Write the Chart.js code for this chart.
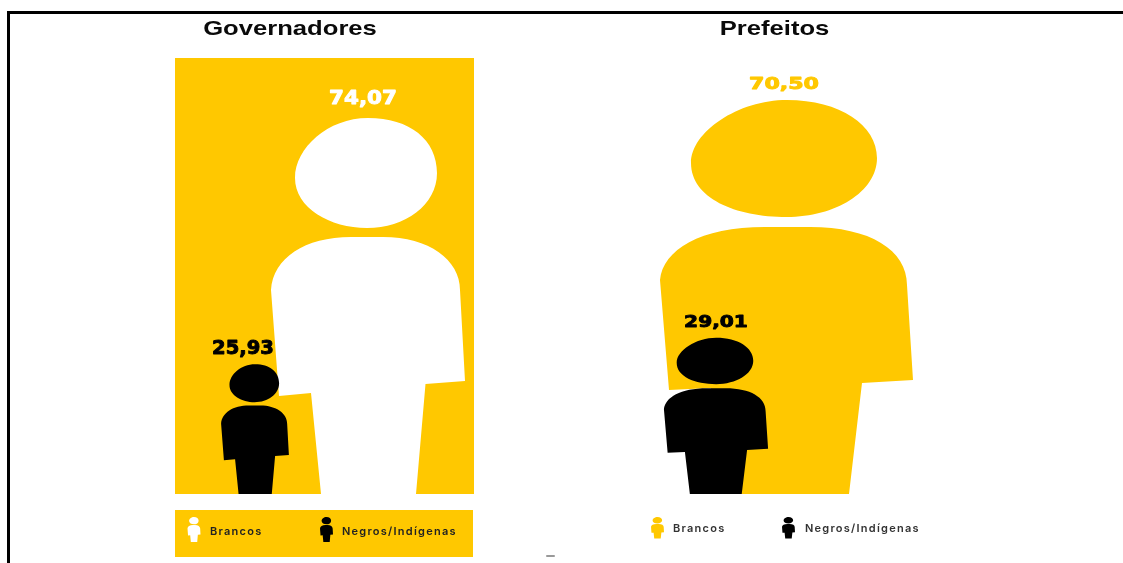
<!DOCTYPE html>
<html lang="pt-BR">
<head>
<meta charset="utf-8">
<title>Governadores e Prefeitos</title>
<script src="https://cdn.jsdelivr.net/npm/chart.js@4"></script>
<style>
  html, body { margin: 0; padding: 0; background: #fff; overflow: hidden; }
  body { width: 1123px; height: 563px; position: relative; }
  canvas { position: absolute; left: 0; top: 0; filter: blur(0.4px); }
  #frame { position: absolute; left: 7px; top: 11px; right: 0; bottom: 0; border-top: 3px solid #000; border-left: 3px solid #000; }
  #mark { position: absolute; left: 546px; top: 555px; width: 9px; height: 2px; background: #999; border-radius: 1px; }
</style>
</head>
<body>
<div id="frame"></div>
<div id="mark"></div>
<canvas id="govChart" width="1123" height="563"></canvas>
<canvas id="prefChart" width="1123" height="563"></canvas>
<script>
  const categories = ['Brancos', 'Negros/Indígenas'];
  const governadores = [74.07, 25.93];
  const prefeitos = [70.50, 29.01];

  const YELLOW = '#FFC800';
  const BLACK = '#000000';
  const WHITE = '#FFFFFF';

  // Person silhouettes: the two panels of the reference don't share a shape
  const PERSON_GOV = {
    w: 194, h: 376,
    path: new Path2D(
      'M97,0 C139,0 166,22 166,55 C166,87 134,110 96,110 C59,110 24,90 24,60 C24,30 57,0 97,0 Z ' +
      'M0,172 C2,140 34,119 80,119 L112,119 C158,119 189,142 189,172 L194,263 L154.5,266 L145,376 L50,376 L40,275 L8,278 Z'
    ),
  };
  const PERSON_PREF = {
    w: 253, h: 394,
    path: new Path2D(
      'M127,0 C180,0 217,25 217,58 C217,92 175,117 127,117 C75,117 31,98 31,63 C31,32 78,0 127,0 Z ' +
      'M0,180 C3,150 40,127 105,127 L150,127 C210,127 247,150 247,185 L253,280 L202,283 L189,394 L63,394 L51,288 L9,290 Z'
    ),
  };

  function fillPerson(ctx, shape, cx, top, w, h, color) {
    ctx.save();
    ctx.translate(cx - w / 2, top);
    ctx.scale(w / shape.w, h / shape.h);
    ctx.fillStyle = color;
    ctx.fill(shape.path);
    ctx.restore();
  }

  // The reference text is stretched sideways, so the text is scaled on x
  function stretchedText(ctx, text, cx, cy, font, stretch, color, weight) {
    ctx.save();
    ctx.translate(cx, cy);
    ctx.scale(stretch, 1);
    ctx.font = font;
    ctx.textAlign = 'center';
    ctx.textBaseline = 'middle';
    ctx.fillStyle = color;
    ctx.fillText(text, 0, 0);
    if (weight) {
      ctx.strokeStyle = color;
      ctx.lineWidth = weight;
      ctx.lineJoin = 'round';
      ctx.strokeText(text, 0, 0);
    }
    ctx.restore();
  }

  const pictogram = {
    id: 'pictogram',
    beforeDraw(chart, args, o) {
      const ctx = chart.ctx;
      ctx.fillStyle = YELLOW;
      (o.panels || []).forEach(p => ctx.fillRect(p[0], p[1], p[2], p[3]));
    },
    afterDatasetsDraw(chart, args, o) {
      const ctx = chart.ctx;
      const ds = chart.data.datasets[0];
      chart.getDatasetMeta(0).data.forEach((bar, i) => {
        const h = (bar.base - bar.y) * o.shrink[i];
        const top = bar.base - h;
        const w = h * o.aspect[i];
        fillPerson(ctx, o.shape, bar.x, top, w, h, o.colors[i]);
        const txt = ds.data[i].toFixed(2).replace('.', ',');
        stretchedText(ctx, txt, bar.x + o.labelDx[i], top - o.labelGap[i], o.labelFont, o.labelStretch[i], o.colors[i], 0.9);
      });

      stretchedText(ctx, o.title, o.titleX, 29, 'bold 21px "Liberation Sans", Arial, sans-serif', 1.22, '#0a0a0a');

      // Legend
      chart.data.labels.forEach((label, i) => {
        const l = o.legend[i];
        fillPerson(ctx, o.shape, l.iconX, 517, 13, o.legendIconH, o.colors[i]);
        ctx.save();
        ctx.font = '600 11px Inter, sans-serif';
        ctx.letterSpacing = '1.25px';
        ctx.textAlign = 'left';
        ctx.textBaseline = 'middle';
        ctx.fillStyle = o.legendText;
        ctx.fillText(label, l.textX, o.legendY);
        ctx.restore();
      });
    },
  };

  function mount(id, values, yMax, padding, opts) {
    return new Chart(document.getElementById(id), {
      type: 'bar',
      data: {
        labels: categories,
        datasets: [{ data: values, backgroundColor: 'transparent', borderWidth: 0 }],
      },
      options: {
        responsive: false,
        animation: false,
        layout: { padding },
        scales: {
          x: { display: false, reverse: true, offset: true },
          y: { display: false, min: 0, max: yMax },
        },
        plugins: { legend: { display: false }, tooltip: { enabled: false }, pictogram: opts },
      },
      plugins: [pictogram],
    });
  }

  mount('govChart', governadores, 85.9, { left: 198.5, right: 698.5, top: 58, bottom: 69 }, {
    title: 'Governadores',
    titleX: 290,
    shape: PERSON_GOV,
    colors: [WHITE, BLACK],
    panels: [[175, 58, 299, 436], [175, 510, 298, 47]],
    shrink: [1, 0.985],
    aspect: [0.516, 0.523],
    labelDx: [-5, -12],
    labelGap: [19, 15],
    labelFont: 'bold 19px "DejaVu Sans", sans-serif',
    labelStretch: [1.13, 1.03],
    legend: [{ iconX: 194, textX: 210 }, { iconX: 326.5, textX: 342 }],
    legendIconH: 25,
    legendY: 531.5,
    legendText: '#222',
  });

  mount('prefChart', prefeitos, 78, { left: 680.75, right: 301.25, top: 58, bottom: 69 }, {
    title: 'Prefeitos',
    titleX: 774.5,
    shape: PERSON_PREF,
    colors: [YELLOW, BLACK],
    panels: [],
    shrink: [1, 0.963],
    aspect: [0.642, 0.667],
    labelDx: [-2.5, 0],
    labelGap: [15, 15],
    labelFont: 'bold 16px "DejaVu Sans", sans-serif',
    labelStretch: [1.38, 1.26],
    legend: [{ iconX: 657.5, textX: 673 }, { iconX: 788.5, textX: 805 }],
    legendIconH: 21.5,
    legendY: 529,
    legendText: '#333',
  });
</script>
</body>
</html>
